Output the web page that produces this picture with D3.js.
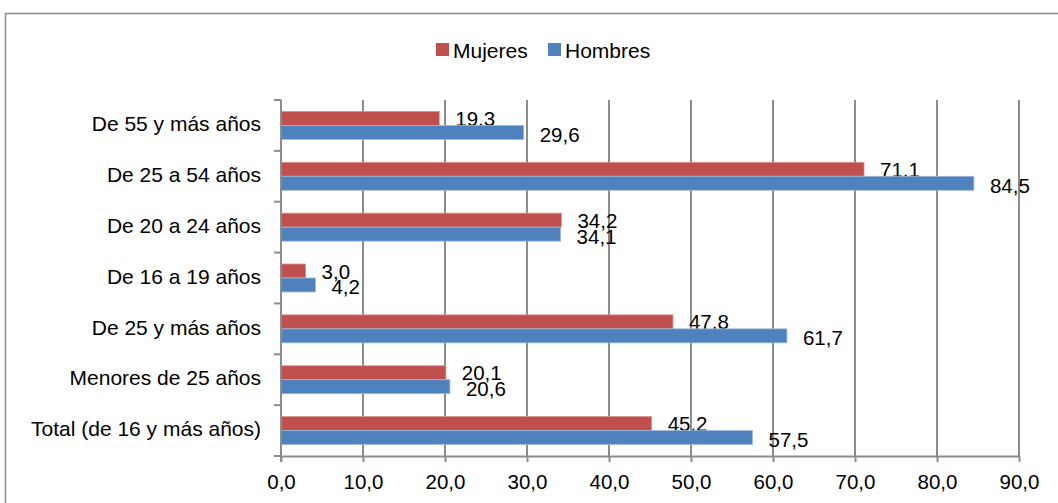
<!DOCTYPE html>
<html><head><meta charset="utf-8">
<script src="https://cdn.jsdelivr.net/npm/d3@7"></script>
<style>body{margin:0;background:#fff}svg{display:block}text{font-family:"Liberation Sans",Arial,sans-serif;fill:#000}</style>
</head><body><svg id="c" width="1058" height="503"></svg>
<script>
const categories = ["De 55 y más años","De 25 a 54 años","De 20 a 24 años","De 16 a 19 años","De 25 y más años","Menores de 25 años","Total (de 16 y más años)"];
const mujeres = [19.3, 71.1, 34.2, 3.0, 47.8, 20.1, 45.2];
const hombres = [29.6, 84.5, 34.1, 4.2, 61.7, 20.6, 57.5];
const seriesNames = ["Mujeres","Hombres"];
const xTicks = [0,10,20,30,40,50,60,70,80,90];
const colors = ["#C0504D","#4F81BD"];
const fmt = v => v.toFixed(1).replace(".", ",");

const svg = d3.select("#c");
const pLeft = 281, pRight = 1019, pTop = 100, pBottom = 456;
const x = d3.scaleLinear().domain([0,90]).range([pLeft,pRight]);
const y = d3.scaleBand().domain(categories).range([pTop,pBottom]).paddingInner(0.45).paddingOuter(0.225);
const y1 = d3.scaleBand().domain(seriesNames).range([0,y.bandwidth()]);
const gridColor = "#8c8c8c";

// outer border
svg.append("rect").attr("x",5.5).attr("y",13.5).attr("width",1060).attr("height",500).attr("fill","none").attr("stroke","#8c8c8c").attr("stroke-width",1.5);

// gridlines
svg.append("g").selectAll("line").data(xTicks.slice(1)).join("line")
  .attr("x1",d=>x(d)).attr("x2",d=>x(d)).attr("y1",pTop).attr("y2",pBottom)
  .attr("stroke",gridColor).attr("stroke-width",2);

// bars
const data = categories.map((c,i)=>({c, vals:[mujeres[i], hombres[i]]}));
const g = svg.append("g");
data.forEach(d=>{
  d.vals.forEach((v,k)=>{
    const yy = y(d.c) + y1(seriesNames[k]);
    g.append("rect").attr("x",x(0)).attr("y",yy).attr("width",x(v)-x(0)).attr("height",y1.bandwidth())
      .attr("fill",colors[k]).attr("stroke", k===0?"#d9928f":"#9db9dc").attr("stroke-width",0.8);
    g.append("text").attr("x",x(v)+16).attr("y",yy+y1.bandwidth()/2 + (k===0?0:2))
      .attr("dominant-baseline","central").attr("font-size",20.5).text(fmt(v));
  });
});

// y axis
const yAxis = d3.axisLeft(y).tickSizeOuter(0).tickSize(0).tickPadding(20);
const ya = svg.append("g").attr("transform",`translate(${pLeft},-1)`).call(yAxis);
ya.select(".domain").remove();
ya.selectAll("text").attr("font-size",21).style("font-family",'"Liberation Sans",Arial,sans-serif');
svg.append("line").attr("x1",pLeft).attr("x2",pLeft).attr("y1",pTop).attr("y2",pBottom+6).attr("stroke",gridColor).attr("stroke-width",2);
const bounds = categories.map(c=>y(c)-y.step()*y.paddingInner()/2).concat([pBottom]);
svg.append("g").selectAll("line").data(bounds).join("line")
  .attr("x1",pLeft-7).attr("x2",pLeft).attr("y1",d=>d).attr("y2",d=>d).attr("stroke",gridColor).attr("stroke-width",2);

// x axis
const xAxis = d3.axisBottom(x).tickValues(xTicks).tickFormat(fmt).tickSize(6).tickSizeOuter(0).tickPadding(12);
const xa = svg.append("g").attr("transform",`translate(0,${pBottom})`).call(xAxis);
xa.select(".domain").attr("stroke",gridColor).attr("stroke-width",2);
xa.selectAll(".tick line").attr("stroke",gridColor).attr("stroke-width",2);
xa.selectAll("text").attr("font-size",20.5).style("font-family",'"Liberation Sans",Arial,sans-serif');

// legend
const lg = svg.append("g");
const legX = [436, 548];
seriesNames.forEach((s,k)=>{
  lg.append("rect").attr("x",legX[k]).attr("y",43).attr("width",13).attr("height",13).attr("fill",colors[k]);
  lg.append("text").attr("x",legX[k]+17).attr("y",50).attr("dominant-baseline","central").attr("font-size",21).text(s);
});
</script></body></html>
